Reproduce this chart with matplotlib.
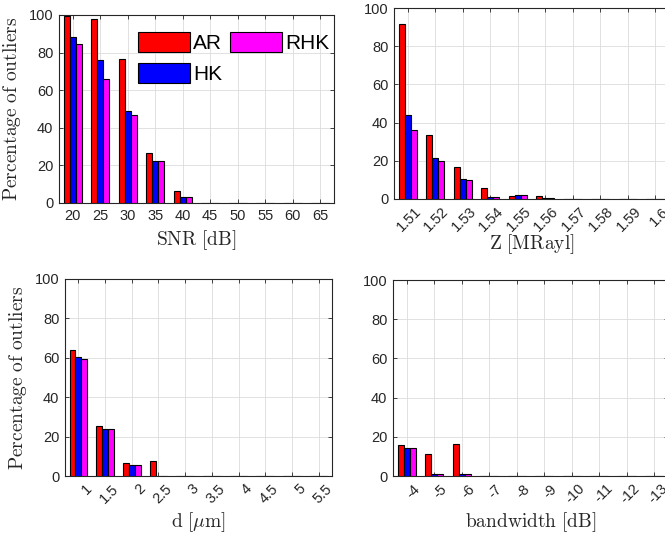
import matplotlib
matplotlib.use('Agg')
import matplotlib.pyplot as plt
import matplotlib.transforms as mtransforms
import numpy as np

plt.rcParams['font.family'] = ['Liberation Sans', 'DejaVu Sans']
plt.rcParams['mathtext.fontset'] = 'cm'

series = ['AR', 'HK', 'RHK']
colors = ['#ff0000', '#0000ff', '#ff00ff']

# SNR panel
snr_labels = ['20', '25', '30', '35', '40', '45', '50', '55', '60', '65']
snr_ar = [99.6, 97.7, 76.4, 26.8, 6.2, 0, 0, 0, 0, 0]
snr_hk = [88.5, 76.2, 49.0, 22.2, 3.2, 0, 0, 0, 0, 0]
snr_rhk = [84.7, 66.1, 46.7, 22.2, 3.2, 0, 0, 0, 0, 0]

# Z panel
z_labels = ['1.51', '1.52', '1.53', '1.54', '1.55', '1.56', '1.57', '1.58', '1.59', '1.6']
z_ar = [91.8, 33.7, 16.6, 5.6, 1.6, 1.6, 0, 0, 0, 0]
z_hk = [44.2, 21.6, 10.6, 1.2, 2.1, 0.7, 0, 0, 0, 0]
z_rhk = [36.1, 20.1, 9.9, 1.0, 2.1, 0.7, 0, 0, 0, 0]

# d panel
d_labels = ['1', '1.5', '2', '2.5', '3', '3.5', '4', '4.5', '5', '5.5']
d_ar = [63.8, 25.2, 6.8, 7.8, 0, 0, 0, 0, 0, 0]
d_hk = [60.2, 23.7, 5.6, 0, 0, 0, 0, 0, 0, 0]
d_rhk = [59.2, 23.7, 5.6, 0, 0, 0, 0, 0, 0, 0]

# bandwidth panel
bw_labels = ['-4', '-5', '-6', '-7', '-8', '-9', '-10', '-11', '-12', '-13']
bw_ar = [15.6, 11.2, 16.2, 0, 0, 0, 0, 0, 0, 0]
bw_hk = [14.1, 1.0, 1.0, 0, 0, 0, 0, 0, 0, 0]
bw_rhk = [14.1, 1.0, 1.0, 0, 0, 0, 0, 0, 0, 0]

W, H = 665, 537
fig = plt.figure(figsize=(W / 100, H / 100), dpi=100)


def px_axes(left, top, right, bottom):
    return fig.add_axes([left / W, 1 - bottom / H, (right - left) / W, (bottom - top) / H])


def draw_panel(ax, labels, vals, xlabel, ylabel=None, rotate=False, xpad=3):
    x = np.arange(1, len(labels) + 1)
    w = 0.22
    for i, (v, c) in enumerate(zip(vals, colors)):
        ax.bar(x + (i - 1) * w, v, width=w, color=c, edgecolor='black',
               linewidth=0.8, label=series[i], zorder=3)
    ax.set_xlim(0.5, len(labels) + 0.5)
    ax.set_ylim(0, 100)
    ax.set_yticks([0, 20, 40, 60, 80, 100])
    ax.set_xticks(x)
    ax.grid(True, color='#dcdcdc', linewidth=0.6, zorder=0)
    ax.set_axisbelow(True)
    for s in ax.spines.values():
        s.set_color('#262626')
        s.set_linewidth(0.8)
    ax.tick_params(direction='in', length=3, width=0.6, colors='#262626',
                   labelsize=10.5, top=True, right=True, pad=4)
    if rotate:
        ax.set_xticklabels(labels, rotation=45, ha='right', rotation_mode='anchor')
        offset = mtransforms.ScaledTranslation(6 / 100, 0, fig.dpi_scale_trans)
        for lab in ax.get_xticklabels():
            lab.set_transform(lab.get_transform() + offset)
    else:
        ax.set_xticklabels(labels)
    ax.set_xlabel(xlabel, fontsize=14, color='#262626', labelpad=xpad)
    if ylabel:
        ax.set_ylabel(ylabel, fontsize=14, color='#262626', labelpad=4)


ylab = r'$\mathrm{Percentage\ of\ outliers}$'

ax1 = px_axes(59, 15, 334, 203)
draw_panel(ax1, snr_labels, [snr_ar, snr_hk, snr_rhk], r'$\mathrm{SNR\ [dB]}$', ylab, xpad=4)
ax1.legend(ncol=2, frameon=False, fontsize=15, handlelength=2.5, handleheight=1.15,
           handletextpad=0.15, columnspacing=0.4, labelspacing=0.45,
           loc='upper left', bbox_to_anchor=(0.256, 0.955), borderaxespad=0)

ax2 = px_axes(394, 8, 669, 199)
draw_panel(ax2, z_labels, [z_ar, z_hk, z_rhk], r'$\mathrm{Z\ [MRayl]}$', rotate=True, xpad=-2)

ax3 = px_axes(65, 279, 332, 476)
draw_panel(ax3, d_labels, [d_ar, d_hk, d_rhk], r'$\mathrm{d\ [}\mu\mathrm{m]}$', ylab, rotate=True)

ax4 = px_axes(393, 280, 668, 476)
draw_panel(ax4, bw_labels, [bw_ar, bw_hk, bw_rhk], r'$\mathrm{bandwidth\ [dB]}$', rotate=True)

fig.savefig('out.png', dpi=100)
